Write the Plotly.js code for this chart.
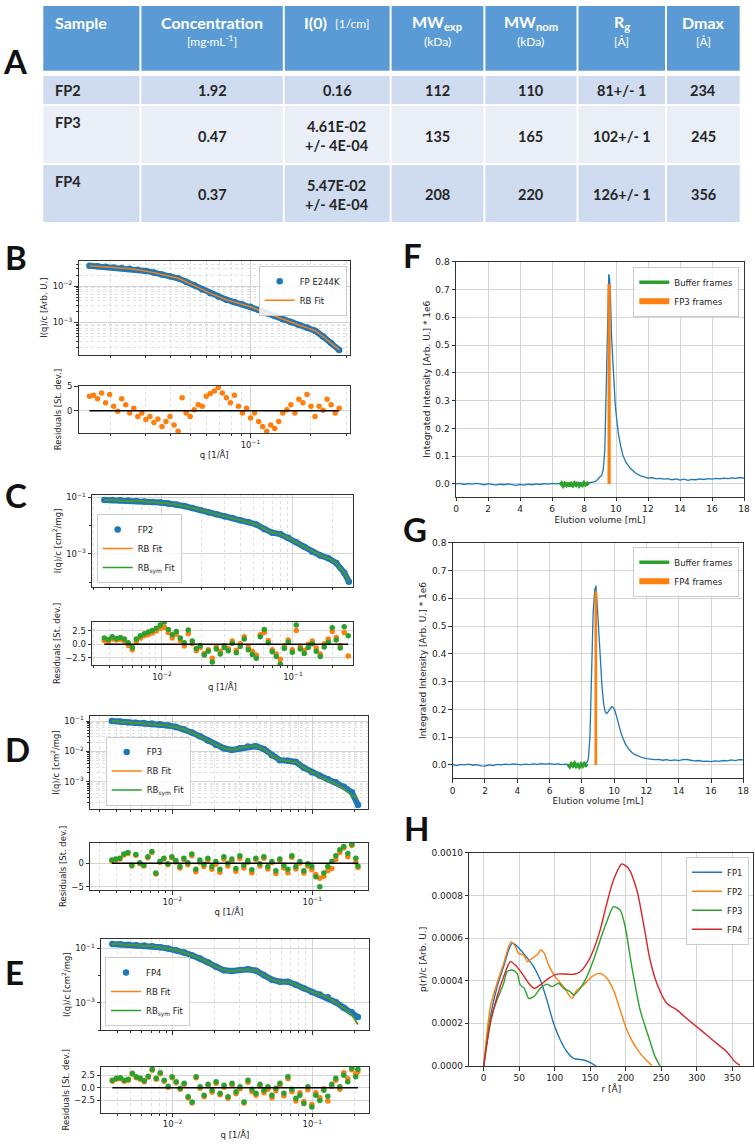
<!DOCTYPE html>
<html><head><meta charset="utf-8">
<script src="https://cdn.plot.ly/plotly-3.0.1.min.js"></script>
<style>html,body{margin:0;padding:0;background:#fff}#chart{width:755px;height:1147px}</style>
</head><body><div id="chart"></div>
<script>
// ---------------- TABLE (panel A) ----------------
const tableHeaders = ['Sample','Concentration','I(0)','MW<sub>exp</sub>','MW<sub>nom</sub>','R<sub>g</sub>','Dmax'];
const tableUnits = ['','[mg·mL<sup>-1</sup>]','[1/cm]','(kDa)','(kDa)','[Å]','[Å]'];
const samples = ['FP2','FP3','FP4'];
const concentration = ['1.92','0.47','0.37'];
const i0 = ['0.16','4.61E-02<br>+/- 4E-04','5.47E-02<br>+/- 4E-04'];
const mwExp = ['112','135','208'];
const mwNom = ['110','165','220'];
const rg = ['81+/- 1','102+/- 1','126+/- 1'];
const dmax = ['234','245','356'];

// ---------------- PANEL B ----------------
const qB = [0.0157,0.01644,0.01722,0.01804,0.01889,0.01979,0.02073,0.02171,0.02274,0.02382,0.02494,0.02613,0.02737,0.02866,0.03002,0.03145,0.03294,0.0345,0.03613,0.03785,0.03964,0.04152,0.04349,0.04555,0.04771,0.04997,0.05234,0.05482,0.05742,0.06014,0.06299,0.06598,0.06911,0.07238,0.07581,0.07941,0.08317,0.08711,0.09124,0.09557,0.1001,0.1048,0.1098,0.115,0.1205,0.1262,0.1322,0.1384,0.145,0.1519,0.1591,0.1666,0.1745,0.1828,0.1915,0.2005,0.21,0.22,0.2304,0.2413,0.2528,0.2648,0.2773];
const resB = [2.9,3.1,2.4,3.6,1.6,3.3,0.9,-0.1,2.4,1.2,-0.5,0.5,-1.2,-0.5,-1.8,-1.2,-2.4,-1.7,-3.2,-2.2,-1.2,-2.9,-4.2,2.6,-0.5,-1.2,0.2,1.2,0.9,2.9,3.5,4.0,4.7,3.6,2.6,1.6,3.1,0.9,-0.5,0.5,-1.5,-0.5,-2.2,-3.2,-4.2,-2.9,-3.6,-2.2,-0.5,0.2,1.2,-0.5,2.3,1.6,3.3,0.9,-1.2,0.9,0.1,2.3,1.2,-0.5,0.5];
const qB_I = [0.0157,0.01722,0.01889,0.02073,0.02274,0.02494,0.02737,0.03002,0.03294,0.03613,0.03964,0.04349,0.04771,0.05234,0.05742,0.06299,0.06911,0.07581,0.08317,0.09124,0.1001,0.1098,0.1205,0.1322,0.145,0.1591,0.1745,0.1915,0.21,0.2304,0.2528,0.2773];
const IB = [0.0362,0.035,0.0337,0.0326,0.0314,0.0299,0.0279,0.0261,0.0234,0.0209,0.0187,0.0163,0.0131,0.0105,0.0081,0.0063,0.00514,0.00419,0.00361,0.00312,0.00269,0.0022,0.0018,0.00149,0.00123,0.00102,0.00085,0.00072,0.00059,0.00041,0.00027,0.000175];

// ---------------- PANEL C ----------------
const qC = [0.00363,0.003894,0.004178,0.004482,0.004808,0.005158,0.005534,0.005937,0.006369,0.006833,0.00733,0.007864,0.008436,0.00905,0.009709,0.010416,0.011174,0.011988,0.01286,0.013797,0.014801,0.015879,0.017035,0.018275,0.019606,0.021033,0.022564,0.024207,0.025969,0.02786,0.029888,0.032064,0.034398,0.036903,0.039589,0.042471,0.045563,0.04888,0.052439,0.056256,0.060352,0.064746,0.069459,0.074516,0.07994,0.08576,0.092004,0.098702,0.10589,0.1136,0.12187,0.13074,0.14026,0.15047,0.16142,0.17317,0.18578,0.19931,0.21382,0.22938,0.24608,0.264];
const resC_RB = [0.7,0.5,1.0,0.8,0.9,0.6,-0.2,-1.0,0.5,1.2,1.6,1.8,2.1,2.5,3.0,3.2,2.2,1.2,1.9,0.7,-0.3,2.0,0.1,-1.2,-0.6,-1.7,-1.0,-2.6,-0.5,-1.3,-0.2,-0.8,0.6,-1.1,0.1,1.4,-0.5,-1.3,-2.0,1.8,2.2,0.7,-1.0,-1.8,-2.8,-0.3,0.8,-1.0,2.6,-0.4,-1.1,0.0,0.6,-0.7,-1.8,0.1,1.0,2.4,1.3,-0.2,2.2,-2.2];
const resC_sym = [1.2,0.9,1.4,1.1,1.3,1.0,0.3,-0.6,1.0,1.6,2.0,2.3,2.6,3.0,3.6,4.2,2.8,1.8,2.4,1.2,0.3,2.7,0.6,-0.8,-0.2,-2.0,-1.3,-3.3,-0.9,-1.8,-0.6,-1.2,0.2,-1.6,-0.4,1.0,-1.0,-1.9,-2.6,1.4,2.8,0.3,-1.4,-2.3,-3.7,-0.8,0.4,-1.5,3.6,-0.9,-1.7,-0.6,0.1,-1.3,-2.3,-0.5,0.4,3.1,0.8,-0.7,3.3,1.6];
const qC_I = [0.00363,0.004178,0.004808,0.005534,0.006369,0.00733,0.008436,0.009709,0.011174,0.01286,0.014801,0.017035,0.019606,0.022564,0.025969,0.029888,0.034398,0.039589,0.045563,0.052439,0.060352,0.069459,0.07994,0.092004,0.10589,0.12187,0.14026,0.16142,0.18578,0.21382,0.24608,0.267];
const IC = [0.0804,0.0794,0.0782,0.0767,0.0741,0.0708,0.0676,0.0653,0.0603,0.0556,0.049,0.0417,0.0355,0.0295,0.0251,0.0216,0.0184,0.0155,0.0133,0.011,0.00767,0.00562,0.00501,0.00372,0.00257,0.00178,0.0012,0.00089,0.00071,0.00048,0.000219,0.000105];

// ---------------- PANELS D & E (shared q grid) ----------------
const qDE = [0.0037,0.003952,0.00422,0.004507,0.004814,0.005141,0.005491,0.005864,0.006263,0.006689,0.007143,0.007629,0.008148,0.008702,0.009294,0.009926,0.010601,0.011322,0.012092,0.012914,0.013792,0.01473,0.015732,0.016801,0.017944,0.019164,0.020467,0.021859,0.023346,0.024933,0.026629,0.02844,0.030374,0.032439,0.034645,0.037001,0.039517,0.042204,0.045074,0.048139,0.051412,0.054908,0.058642,0.06263,0.066889,0.071437,0.076295,0.081483,0.087024,0.092942,0.099262,0.10601,0.11322,0.12092,0.12914,0.13792,0.1473,0.15732,0.16801,0.17944,0.19164,0.20467,0.212];
const resD_RB = [0.5,0.7,0.9,1.8,2.1,-0.6,1.7,-0.1,-0.6,1.2,2.3,-2.3,0.2,0.9,-0.3,1.2,0.3,-1.0,0.8,-0.3,1.6,-1.8,0.2,-0.7,0.6,-1.3,-0.2,-1.9,0.9,-0.6,0.4,-1.7,1.1,-1.0,0.2,-2.0,0.8,-0.6,1.1,-1.2,0.1,-2.2,0.6,-1.0,-2.0,1.3,-1.2,0.0,-2.1,-0.6,-1.4,-2.4,-3.2,-2.8,-1.6,-1.1,0.8,2.3,3.3,1.4,3.8,0.2,-0.9];
const resD_sym = [0.7,0.9,1.1,2.0,2.3,-0.4,1.9,0.1,-0.4,1.4,2.5,-2.1,0.4,1.1,-0.1,1.4,0.6,-0.7,1.1,0.1,2.0,-1.3,0.7,-0.2,1.1,-0.7,0.4,-1.3,1.4,0.0,0.9,-1.1,1.6,-0.4,0.6,-1.4,1.1,-0.1,1.4,-0.7,0.4,-1.6,0.9,-0.4,-1.3,1.6,-0.7,0.4,-1.6,-0.1,-0.7,-2.9,-5.0,-2.1,-0.7,0.4,1.6,2.9,3.6,2.1,4.1,1.1,-0.6];
const resE_RB = [1.3,1.7,1.8,1.3,1.5,2.7,2.0,1.7,1.2,2.1,3.5,1.7,2.8,1.3,0.1,2.0,1.0,-0.3,0.7,-2.0,-3.0,2.0,-0.1,-1.8,0.4,-0.9,0.9,-1.4,0.1,-2.1,0.5,-1.2,-0.2,-3.0,1.1,-0.8,-1.5,0.3,-1.0,-0.3,-2.0,-0.6,0.5,-1.6,1.8,-0.8,-2.6,-1.0,-2.7,-0.4,-3.3,-1.0,-2.0,-0.2,-2.6,0.3,1.5,-0.3,3.0,1.8,3.6,2.8,3.2];
const resE_sym = [1.5,1.9,2.0,1.5,1.7,2.9,2.2,1.9,1.4,2.3,3.7,1.9,3.0,1.5,0.3,2.2,1.2,-0.1,0.9,-1.8,-2.8,2.2,0.2,-1.5,0.7,-0.5,1.2,-1.1,0.5,-1.8,0.9,-0.8,0.2,-2.8,1.5,-0.3,-1.1,0.7,-0.5,0.2,-1.5,-0.1,0.9,-1.1,2.2,-0.3,-2.1,-1.5,-3.1,0.2,-3.8,-1.5,-2.5,-0.5,-1.7,0.7,1.9,0.2,2.5,1.2,3.9,2.2,3.7];
const qDE_I = [0.0037,0.00422,0.004814,0.005491,0.006263,0.007143,0.008148,0.009294,0.010601,0.012092,0.013792,0.015732,0.017944,0.020467,0.023346,0.026629,0.030374,0.034645,0.039517,0.045074,0.051412,0.058642,0.066889,0.076295,0.087024,0.099262,0.11322,0.12914,0.1473,0.16801,0.19164,0.212];
const ID = [0.1,0.0955,0.0912,0.0875,0.0855,0.0822,0.0776,0.0716,0.0638,0.0537,0.0417,0.0316,0.0229,0.0166,0.0126,0.0111,0.0126,0.0145,0.0148,0.012,0.00741,0.00513,0.0049,0.00447,0.00288,0.00204,0.00158,0.0012,0.00095,0.00068,0.00045,0.00017];
const fitD = [0.1,0.0955,0.0912,0.0875,0.0855,0.0822,0.0776,0.0716,0.0638,0.0537,0.0417,0.0316,0.0229,0.0166,0.0126,0.0111,0.0126,0.0145,0.0148,0.012,0.00741,0.00513,0.0049,0.00447,0.00288,0.00204,0.0015,0.00112,0.00085,0.00058,0.00036,0.00028];
const IE = [0.1439,0.1396,0.1349,0.1306,0.1259,0.1189,0.1096,0.0977,0.0851,0.07,0.055,0.0422,0.0302,0.0209,0.01567,0.01462,0.01585,0.01698,0.01514,0.01023,0.00708,0.00589,0.00589,0.00457,0.00339,0.00251,0.002,0.00158,0.00105,0.00066,0.00045,0.0003];
const fitE = [0.1439,0.1396,0.1349,0.1306,0.1259,0.1189,0.1096,0.0977,0.0851,0.07,0.055,0.0422,0.0302,0.0209,0.01567,0.01462,0.01585,0.01698,0.01514,0.01023,0.00708,0.00589,0.00589,0.00457,0.00339,0.00251,0.002,0.00158,0.00102,0.00064,0.00036,0.00016];

// ---------------- PANEL F ----------------
const fVol = [0,0.25,0.5,0.75,1,1.25,1.5,1.75,2,2.25,2.5,2.75,3,3.25,3.5,3.75,4,4.25,4.5,4.75,5,5.25,5.5,5.75,6,6.25,6.5,6.75,7,7.25,7.5,7.75,8,8.25,8.5,8.75,8.9,9.0,9.1,9.2,9.3,9.4,9.5,9.55,9.6,9.65,9.73,9.83,9.96,10.05,10.15,10.28,10.42,10.6,10.88,11.2,11.5,11.75,12,12.25,12.5,12.75,13,13.25,13.5,13.75,14,14.25,14.5,14.75,15,15.25,15.5,15.75,16,16.25,16.5,16.75,17,17.25,17.5,17.75,18];
const fInt = [0.000,0.002,-0.002,0.001,-0.001,0.002,0.000,-0.003,0.001,-0.002,-0.004,-0.001,-0.003,0.000,-0.002,-0.005,-0.002,-0.004,-0.001,-0.003,0.000,-0.002,0.001,-0.001,0.002,0.000,0.002,-0.001,0.001,-0.003,0.000,-0.002,0.001,0.003,0.006,0.010,0.022,0.026,0.030,0.050,0.120,0.400,0.700,0.755,0.740,0.680,0.520,0.400,0.280,0.230,0.180,0.140,0.105,0.080,0.057,0.040,0.030,0.025,0.021,0.023,0.018,0.020,0.017,0.019,0.015,0.018,0.014,0.017,0.013,0.016,0.015,0.018,0.016,0.019,0.017,0.020,0.018,0.021,0.019,0.022,0.020,0.023,0.021];
const bufFVol = [6.5,6.6,6.7,6.8,6.9,7.0,7.1,7.2,7.3,7.4,7.5,7.6,7.7,7.8,7.9,8.0,8.1,8.2,8.3];
const bufFInt = [-0.004,0.003,-0.007,0.002,-0.005,0.004,-0.008,0.001,-0.006,0.003,-0.004,0.005,-0.007,0.000,-0.005,0.004,-0.003,0.002,-0.004];
const fp3FramesVol = [9.47,9.67];
const fp3FramesInt = [0.72,0.72];

// ---------------- PANEL G ----------------
const gVol = [0,0.25,0.5,0.75,1,1.25,1.5,1.75,2,2.25,2.5,2.75,3,3.25,3.5,3.75,4,4.25,4.5,4.75,5,5.25,5.5,5.75,6,6.25,6.5,6.75,7,7.25,7.5,7.75,8,8.2,8.3,8.4,8.5,8.6,8.7,8.8,8.87,8.95,9.05,9.15,9.25,9.35,9.45,9.55,9.65,9.75,9.85,9.95,10.05,10.15,10.25,10.4,10.55,10.7,10.9,11.1,11.3,11.5,11.75,12,12.25,12.5,12.75,13,13.25,13.5,13.75,14,14.25,14.5,14.75,15,15.25,15.5,15.75,16,16.25,16.5,16.75,17,17.25,17.5,17.75,18];
const gInt = [0.001,-0.002,0.002,0.000,0.003,-0.001,0.001,-0.003,-0.004,0.000,-0.002,0.002,0.000,0.003,0.001,0.004,0.002,0.000,0.003,0.001,0.004,0.002,0.005,0.003,0.005,0.002,0.004,0.001,0.003,0.000,0.003,-0.001,0.002,0.004,0.008,0.020,0.100,0.350,0.550,0.630,0.645,0.580,0.470,0.370,0.280,0.220,0.190,0.185,0.195,0.205,0.210,0.207,0.195,0.175,0.150,0.120,0.095,0.075,0.058,0.045,0.037,0.031,0.026,0.023,0.021,0.019,0.020,0.017,0.019,0.016,0.018,0.016,0.019,0.020,0.017,0.015,0.016,0.013,0.014,0.012,0.015,0.013,0.016,0.015,0.018,0.016,0.019,0.018];
const bufGVol = [7.15,7.25,7.35,7.45,7.55,7.65,7.75,7.85,7.95,8.05,8.15,8.25,8.35];
const bufGInt = [0.002,-0.006,0.004,-0.003,0.006,-0.005,0.001,-0.007,0.003,-0.004,0.005,-0.002,0.002];
const fp4FramesVol = [8.78,8.95];
const fp4FramesInt = [0.625,0.625];

// ---------------- PANEL H ----------------
const rFP1 = [0,9.4,18.7,28.1,35.1,39.8,45,56,70.3,79.7,89,98.4,107.8,117.2,126.5,140.6,150,158.4];
const pFP1 = [0,2.3e-4,3.7e-4,4.66e-4,5.44e-4,5.75e-4,5.68e-4,5.28e-4,4.66e-4,4.03e-4,3.09e-4,2.0e-4,1.22e-4,0.67e-4,0.36e-4,0.28e-4,0.16e-4,0];
const rFP2 = [0,9.4,18.7,28.1,38.4,44.5,49.2,56.2,61.9,68,75,80.6,85.3,91.4,100.7,112.5,124.2,131.2,140.6,152.3,164,173.4,182.7,192.1,201.5,210.9,220.2,229.6,236.6];
const pFP2 = [0,2.78e-4,3.88e-4,4.81e-4,5.83e-4,5.6e-4,5.28e-4,5.2e-4,4.89e-4,5.05e-4,5.2e-4,5.44e-4,5.28e-4,4.73e-4,4.19e-4,3.72e-4,3.17e-4,3.56e-4,3.8e-4,4.19e-4,4.34e-4,4.11e-4,3.56e-4,2.63e-4,1.69e-4,1.06e-4,0.59e-4,0.25e-4,0.03e-4];
const rFP3 = [0,9.4,18.7,28.1,32.8,39.8,46.9,51.5,57.2,63.3,70.3,79.7,89,96.1,105.4,112.5,121.9,126.5,135.9,145.3,154.6,164,173.4,182.7,192.1,199.2,208.5,220.2,232,241.3,248.4];
const pFP3 = [0,2.16e-4,3.09e-4,3.88e-4,4.42e-4,4.5e-4,4.34e-4,3.8e-4,3.64e-4,3.17e-4,3.25e-4,3.64e-4,3.84e-4,3.72e-4,3.88e-4,3.64e-4,3.48e-4,3.33e-4,3.64e-4,4.19e-4,4.97e-4,5.91e-4,6.77e-4,7.47e-4,7.31e-4,6.53e-4,4.66e-4,2.63e-4,1.38e-4,0.44e-4,0];
const rFP4 = [0,9.4,18.7,28.1,37.5,44.5,53.9,63.3,71.2,79.7,91.4,103.1,114.8,126.5,135.9,145.3,154.6,164,173.4,182.7,194.4,203.8,215.6,224.9,234.3,243.7,257.7,271.8,285.8,299.9,314,328,342.1,353.8,360.8];
const pFP4 = [0,2.0e-4,3.25e-4,4.19e-4,4.89e-4,4.73e-4,4.34e-4,3.88e-4,3.64e-4,3.8e-4,4.11e-4,4.31e-4,4.31e-4,4.3e-4,4.42e-4,4.81e-4,5.44e-4,6.38e-4,7.63e-4,8.72e-4,9.47e-4,9.27e-4,8.25e-4,6.69e-4,4.97e-4,3.88e-4,2.94e-4,2.63e-4,2.23e-4,1.84e-4,1.45e-4,1.06e-4,0.67e-4,0.2e-4,0.03e-4];

// ================= STYLE / LAYOUT =================
const BLUE='#1f77b4', ORANGE='#ff7f0e', GREEN='#2ca02c', RED='#d62728';
const W=755, H=1147, TXT='#222', FONT='DejaVu Sans', TFONT='Lato';
const fx = v => v/W, fy = v => 1 - v/H;
const domX = (a,b) => [a/W, b/W];
const domY = (t,b) => [1-b/H, 1-t/H];
function minorLog(d0,d1){const v=[];for(let d=d0;d<=d1;d++)for(let k=2;k<=9;k++)v.push(k*Math.pow(10,d));return v;}
const pw = e => '10<sup>\u2212'+e+'</sup>';
const base = {showline:true, mirror:true, linecolor:'#333', linewidth:1, ticks:'outside', ticklen:3.5, tickwidth:1, tickcolor:'#333',
  tickfont:{family:FONT,size:8.5,color:TXT}, showgrid:true, gridcolor:'#d4d4d4', gridwidth:1, zeroline:false, fixedrange:true, automargin:false};
const ax = o => Object.assign({}, base, o);
const ttl = (t,s) => ({text:t, font:{family:FONT,size:s||8.5,color:TXT}, standoff:3});
const minorGrid = vals => ({tickmode:'array', tickvals:vals, ticks:'outside', ticklen:2, tickcolor:'#333', showgrid:true, gridcolor:'#e0e0e0', griddash:'dot', gridwidth:1});
const minorNoGrid = vals => ({tickmode:'array', tickvals:vals, ticks:'outside', ticklen:2, tickcolor:'#333', showgrid:false});
const xDecades = {tickmode:'array', tickvals:[1e-3,1e-2,1e-1], ticktext:[pw(3),pw(2),pw(1)]};

function logX(dx, range, anchor, labels, title){
  const o = {type:'log', domain:dx, range, anchor, showticklabels:labels, minor:minorGrid(minorLog(-4,0))};
  if(title) o.title = ttl(title);
  return ax(Object.assign(o, xDecades));
}
const layout = {width:W, height:H, margin:{l:0,r:0,t:0,b:0}, paper_bgcolor:'#fff', plot_bgcolor:'#fff',
  font:{family:FONT,size:8.5,color:TXT}, showlegend:true, shapes:[], annotations:[]};

// Panel B
layout.xaxis  = logX(domX(78.5,350), [-1.859,-0.503], 'y', false);
layout.yaxis  = ax({type:'log', domain:domY(260.7,354.5), range:[-3.882,-1.303], anchor:'x', tickmode:'array', tickvals:[1e-3,1e-2], ticktext:[pw(3),pw(2)], minor:minorGrid(minorLog(-4,-2)), title:ttl('I(q)/c [Arb. U.]')});
layout.xaxis2 = logX(domX(78.5,350), [-1.859,-0.503], 'y2', true, 'q [1/Å]');
layout.yaxis2 = ax({domain:domY(386,433), range:[-4.53,5], anchor:'x2', tickmode:'array', tickvals:[0,5], ticktext:['0','5'], title:ttl('Residuals [St. dev.]')});
// Panel C
layout.xaxis3 = logX(domX(92,353), [-2.534,-0.542], 'y3', false);
layout.yaxis3 = ax({type:'log', domain:domY(495,586.7), range:[-4.155,-0.92], anchor:'x3', tickmode:'array', tickvals:[1e-3,1e-1], ticktext:[pw(3),pw(1)], minor:minorNoGrid([1e-4,1e-2]), title:ttl('I(q)/c [cm<sup>2</sup>/mg]')});
layout.xaxis4 = logX(domX(92,353), [-2.534,-0.542], 'y4', true, 'q [1/Å]');
layout.yaxis4 = ax({domain:domY(621.7,665), range:[-3.88,4.24], anchor:'x4', tickmode:'array', tickvals:[-2.5,0,2.5], ticktext:['\u22122.5','0.0','2.5'], title:ttl('Residuals [St. dev.]')});
// Panel D
layout.xaxis5 = logX(domX(90,368), [-2.588,-0.602], 'y5', false);
layout.yaxis5 = ax({type:'log', domain:domY(716,809), range:[-3.90,-0.835], anchor:'x5', tickmode:'array', tickvals:[1e-3,1e-2,1e-1], ticktext:[pw(3),pw(2),pw(1)], minor:minorGrid(minorLog(-4,-1)), title:ttl('I(q)/c [cm<sup>2</sup>/mg]')});
layout.xaxis6 = logX(domX(90,368), [-2.588,-0.602], 'y6', true, 'q [1/Å]');
layout.yaxis6 = ax({domain:domY(842.7,890), range:[-5.72,4.41], anchor:'x6', tickmode:'array', tickvals:[-5,0], ticktext:['\u22125','0'], title:ttl('Residuals [St. dev.]')});
// Panel E
layout.xaxis7 = logX(domX(101,369), [-2.513,-0.594], 'y7', false);
layout.yaxis7 = ax({type:'log', domain:domY(939.3,1030), range:[-4.0,-0.669], anchor:'x7', tickmode:'array', tickvals:[1e-3,1e-1], ticktext:[pw(3),pw(1)], minor:minorNoGrid([1e-4,1e-2]), title:ttl('I(q)/c [cm<sup>2</sup>/mg]')});
layout.xaxis8 = logX(domX(101,369), [-2.513,-0.594], 'y8', true, 'q [1/Å]');
layout.yaxis8 = ax({domain:domY(1066.7,1112.7), range:[-4.95,4.2], anchor:'x8', tickmode:'array', tickvals:[-2.5,0,2.5], ticktext:['\u22122.5','0.0','2.5'], title:ttl('Residuals [St. dev.]')});
// Panel F, G, H
const tf9 = {family:FONT,size:9,color:TXT};
layout.xaxis9  = ax({domain:domX(456,744), range:[0,18], anchor:'y9', dtick:2, tick0:0, tickfont:tf9, title:ttl('Elution volume [mL]',9)});
layout.yaxis9  = ax({domain:domY(261.7,496.7), range:[-0.046,0.8], anchor:'x9', dtick:0.1, tick0:0, tickformat:'.1f', tickfont:tf9, title:ttl('Integrated Intensity [Arb. U.] * 1e6',9)});
layout.xaxis10 = ax({domain:domX(452.7,743.3), range:[0,18], anchor:'y10', dtick:2, tick0:0, tickfont:tf9, title:ttl('Elution volume [mL]',9)});
layout.yaxis10 = ax({domain:domY(542.7,778.3), range:[-0.048,0.8], anchor:'x10', dtick:0.1, tick0:0, tickformat:'.1f', tickfont:tf9, title:ttl('Integrated Intensity [Arb. U.] * 1e6',9)});
layout.xaxis11 = ax({domain:domX(469.3,753.3), range:[-20.3,379.6], anchor:'y11', dtick:50, tick0:0, tickfont:tf9, title:ttl('r [Å]',9)});
layout.yaxis11 = ax({domain:domY(852.7,1066), range:[0,0.001], anchor:'x11', dtick:0.0002, tick0:0, tickformat:'.4f', tickfont:tf9, title:ttl('p(r)/c [Arb. U.]',9)});

// Legends (anchored at the reference box corners)
function leg(x,y,size,xa,ya){return {x:fx(x), y:fy(y), xref:'paper', yref:'paper', xanchor:xa, yanchor:ya, bgcolor:'rgba(255,255,255,0.85)',
  bordercolor:'#cccccc', borderwidth:1, font:{family:FONT,size:size,color:TXT}, itemwidth:30, tracegroupgap:0};}
layout.legend  = leg(346.7,265.7,8.5,'right','top');
layout.legend2 = leg(96.7,583,8.5,'left','bottom');
layout.legend3 = leg(105.7,805.5,8.5,'left','bottom');
layout.legend4 = leg(105,1026,8.5,'left','bottom');
layout.legend5 = leg(739.3,266.7,8.5,'right','top');
layout.legend6 = leg(739.3,546.7,8.5,'right','top');
layout.legend7 = leg(749,856.7,8.5,'right','top');

// ================= TRACES =================
const traces = [];
function saxsPanel(xa, ya, xr, yr, qI, Idata, fits, qR, resids, dataName, legendId){
  traces.push({x:qI, y:Idata, xaxis:xa, yaxis:ya, mode:'lines', line:{color:BLUE,width:6}, showlegend:false, hoverinfo:'skip'});
  traces.push({x:qI, y:Idata, xaxis:xa, yaxis:ya, mode:'markers', marker:{color:BLUE,size:6.5}, name:dataName, legend:legendId});
  fits.forEach(f => traces.push({x:qI, y:f.y, xaxis:xa, yaxis:ya, mode:'lines', line:{color:f.color,width:1.5}, name:f.name, legend:legendId}));
  resids.forEach(r => traces.push({x:qR, y:r.y, xaxis:xr, yaxis:yr, mode:'markers', marker:{color:r.color,size:5.5}, showlegend:false}));
  traces.push({x:[qR[0], qR[qR.length-1]], y:[0,0], xaxis:xr, yaxis:yr, mode:'lines', line:{color:'#000',width:1.5}, showlegend:false});
}
saxsPanel('x','y','x2','y2', qB_I, IB, [{y:IB,color:ORANGE,name:'RB Fit'}], qB, [{y:resB,color:ORANGE}], 'FP E244K', 'legend');
saxsPanel('x3','y3','x4','y4', qC_I, IC, [{y:IC,color:ORANGE,name:'RB Fit'},{y:IC,color:GREEN,name:'RB<sub>sym</sub> Fit'}], qC, [{y:resC_RB,color:ORANGE},{y:resC_sym,color:GREEN}], 'FP2', 'legend2');
saxsPanel('x5','y5','x6','y6', qDE_I, ID, [{y:fitD,color:ORANGE,name:'RB Fit'},{y:fitD,color:GREEN,name:'RB<sub>sym</sub> Fit'}], qDE, [{y:resD_RB,color:ORANGE},{y:resD_sym,color:GREEN}], 'FP3', 'legend3');
saxsPanel('x7','y7','x8','y8', qDE_I, IE, [{y:fitE,color:ORANGE,name:'RB Fit'},{y:fitE,color:GREEN,name:'RB<sub>sym</sub> Fit'}], qDE, [{y:resE_RB,color:ORANGE},{y:resE_sym,color:GREEN}], 'FP4', 'legend4');

function secPanel(xa, ya, vol, inten, bv, bi, fv, fi, framesName, legendId){
  traces.push({x:vol, y:inten, xaxis:xa, yaxis:ya, mode:'lines', line:{color:BLUE,width:1.3}, showlegend:false});
  traces.push({x:bv, y:bi, xaxis:xa, yaxis:ya, mode:'lines', line:{color:GREEN,width:3.5}, name:'Buffer frames', legend:legendId});
  traces.push({x:fv, y:fi, xaxis:xa, yaxis:ya, mode:'none', fill:'tozeroy', fillcolor:ORANGE, name:framesName, legend:legendId});
}
secPanel('x9','y9', fVol, fInt, bufFVol, bufFInt, fp3FramesVol, fp3FramesInt, 'FP3 frames', 'legend5');
secPanel('x10','y10', gVol, gInt, bufGVol, bufGInt, fp4FramesVol, fp4FramesInt, 'FP4 frames', 'legend6');

[[rFP1,pFP1,BLUE,'FP1'],[rFP2,pFP2,ORANGE,'FP2'],[rFP3,pFP3,GREEN,'FP3'],[rFP4,pFP4,RED,'FP4']].forEach(([r,p,c,n]) =>
  traces.push({x:r, y:p, xaxis:'x11', yaxis:'y11', mode:'lines', line:{color:c,width:1.4,shape:'spline',smoothing:0.7}, name:n, legend:'legend7'}));

// ================= TABLE (shapes + annotations) =================
const cols = [42.3,140.4,283.8,390.6,484.4,577.5,666,740.7];
const headerBand = [6,70.7];
const rowBands = [[76,104],[106,163],[165,222]];
const rowFill = ['#cfdbee','#e9eef7','#cfdbee'];
function rect(x0,x1,y0,y1,color){layout.shapes.push({type:'rect',xref:'paper',yref:'paper',x0:fx(x0),x1:fx(x1),y0:fy(y1),y1:fy(y0),fillcolor:color,line:{width:0},layer:'below'});}
for(let c=0;c<7;c++){
  rect(cols[c]+1,cols[c+1]-1,headerBand[0],headerBand[1],'#5b9bd5');
  rowBands.forEach((b,r)=>rect(cols[c]+1,cols[c+1]-1,b[0],b[1],rowFill[r]));
}
function ann(text,x,y,opt){layout.annotations.push(Object.assign({text,x:fx(x),y:fy(y),xref:'paper',yref:'paper',showarrow:false,xanchor:'center',yanchor:'middle'},opt||{}));}
const hFont = {family:TFONT,size:16,color:'#ffffff'};
const uFont = {family:TFONT,size:12,color:'#ffffff'};
const bFont = {family:TFONT,size:14.5,color:'#262626'};
const colC = c => (cols[c]+cols[c+1])/2;
tableHeaders.forEach((h,c)=>{
  if(c===0) ann('<b>'+h+'</b>',53,22,{font:hFont,xanchor:'left'});
  else if(c===2){ ann('<b>'+h+'</b>',315,22,{font:hFont}); ann(tableUnits[c],351.5,23.5,{font:uFont}); }
  else { ann('<b>'+h+'</b>',colC(c),22,{font:hFont}); ann(tableUnits[c],colC(c),41,{font:uFont}); }
});
const rowY = [90,136,194.5];
const sampleY = [90,122.7,181.7];
const bodyCols = [concentration,i0,mwExp,mwNom,rg,dmax];
samples.forEach((s,r)=>{
  ann('<b>'+s+'</b>',53,sampleY[r],{font:bFont,xanchor:'left'});
  bodyCols.forEach((arr,k)=>ann('<b>'+arr[r]+'</b>',colC(k+1),rowY[r],{font:bFont}));
});

// Panel letters
const letterFont = {family:TFONT,size:33,color:'#111'};
[['A',15.5,61],['B',16,257.5],['C',16,495],['D',17,749],['E',14,972],['F',412,255],['G',415,529],['H',416,828]].forEach(([t,x,y])=>ann('<b>'+t+'</b>',x,y,{font:letterFont}));

Plotly.newPlot('chart', traces, layout, {staticPlot:true});
</script></body></html>
